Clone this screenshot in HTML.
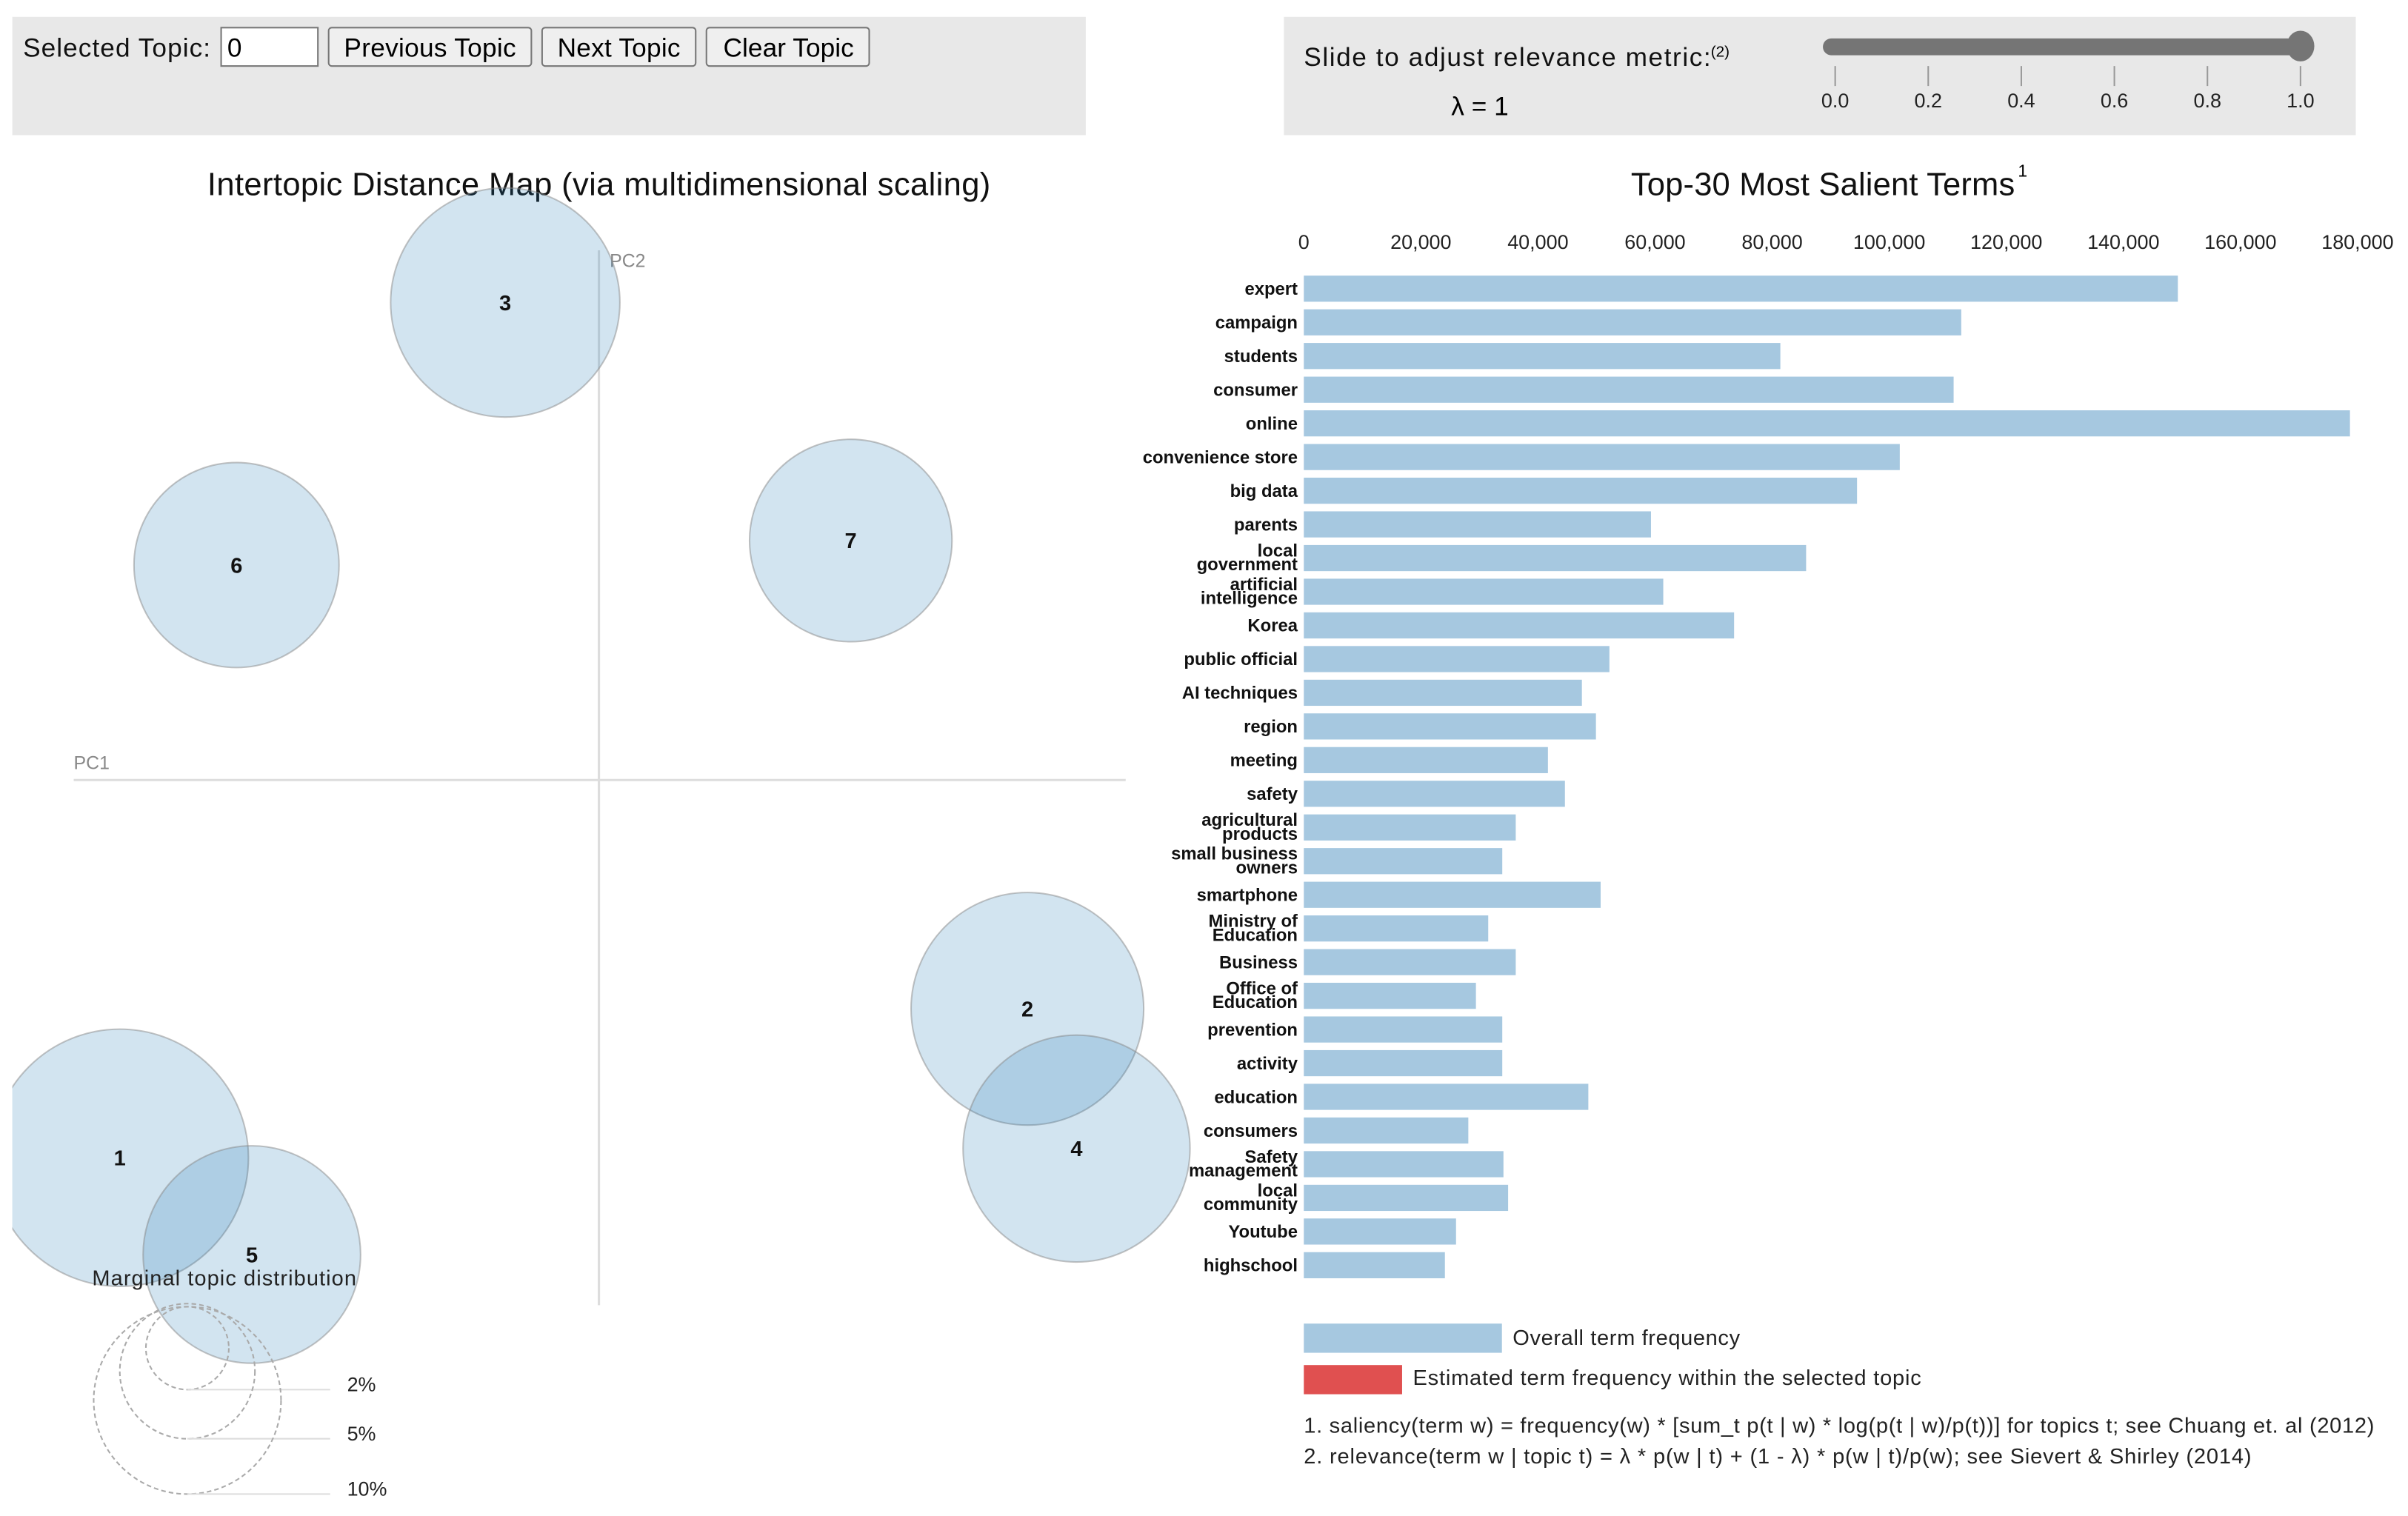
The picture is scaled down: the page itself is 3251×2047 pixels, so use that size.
<!DOCTYPE html>
<html><head><meta charset="utf-8">
<style>
html,body{margin:0;padding:0;background:#fff;overflow:hidden}
svg{display:block;font-family:"Liberation Sans",sans-serif}
</style></head>
<body>
<svg id="root" width="3251" height="2047" viewBox="0 0 1568 987.3" preserveAspectRatio="none" xmlns="http://www.w3.org/2000/svg">
<defs><clipPath id="mapclip"><rect x="8" y="95" width="800" height="892"/></clipPath></defs>
<g>
<rect x="8" y="11" width="699" height="77" fill="#e8e8e8"/>
<text x="15" y="37" font-size="17" fill="#111" textLength="122">Selected Topic:</text>
<g><rect x="144" y="18" width="63" height="25" fill="#fff" stroke="#777"/><text x="148" y="37" font-size="17">0</text></g>
<g><rect x="214" y="18" width="132" height="25" rx="2" fill="#efefef" stroke="#777"/><text x="224" y="37" font-size="17" textLength="112">Previous Topic</text></g>
<g><rect x="353" y="18" width="100" height="25" rx="2" fill="#efefef" stroke="#777"/><text x="363" y="37" font-size="17" textLength="80">Next Topic</text></g>
<g><rect x="460" y="18" width="106" height="25" rx="2" fill="#efefef" stroke="#777"/><text x="471" y="37" font-size="17" textLength="85">Clear Topic</text></g>
</g>
<g>
<rect x="836" y="11" width="698" height="77" fill="#e8e8e8"/>
<text x="849" y="43" font-size="17" fill="#111" textLength="265">Slide to adjust relevance metric:</text>
<text x="1114" y="37" font-size="10">(2)</text>
<text x="945" y="75" font-size="17">λ = 1</text>
<g>
<rect x="1187" y="25" width="315" height="11" rx="5.5" fill="#757575"/>
<ellipse cx="1498" cy="30" rx="9" ry="10" fill="#757575"/>
<g id="sliderTicks"></g>
</g>
</g>
<text x="390" y="127" font-size="21" text-anchor="middle" fill="#111" textLength="510">Intertopic Distance Map (via multidimensional scaling)</text>
<text x="1187" y="127" font-size="21" text-anchor="middle" fill="#111" textLength="250">Top-30 Most Salient Terms</text>
<text x="1314" y="115" font-size="11">1</text>
<g>
<line x1="48" y1="508" x2="733" y2="508" stroke="#ddd" stroke-width="1.5"/>
<line x1="390" y1="163" x2="390" y2="850" stroke="#ddd" stroke-width="1.5"/>
<text x="48" y="501" font-size="12" fill="#888">PC1</text>
<text x="397" y="174" font-size="12" fill="#888">PC2</text>
<g id="circles" clip-path="url(#mapclip)"></g>
<g id="circleLabels"></g>
<text x="146" y="837" font-size="14" text-anchor="middle" fill="#222" textLength="172">Marginal topic distribution</text>
<g id="marginal"></g>
</g>
<g>
<g id="xticks"></g>
<g id="bars"></g>
</g>
<g>
<rect x="849" y="862" width="129" height="19" fill="#a6c8e0"/>
<text x="985" y="876" font-size="14" fill="#222" textLength="148">Overall term frequency</text>
<rect x="849" y="889" width="64" height="19" fill="#e05050"/>
<text x="920" y="902" font-size="14" fill="#222" textLength="331">Estimated term frequency within the selected topic</text>
<text x="849" y="933" font-size="14" fill="#222" textLength="697">1. saliency(term w) = frequency(w) * [sum_t p(t | w) * log(p(t | w)/p(t))] for topics t; see Chuang et. al (2012)</text>
<text x="849" y="953" font-size="14" fill="#222" textLength="617">2. relevance(term w | topic t) = λ * p(w | t) + (1 - λ) * p(w | t)/p(w); see Sievert &amp; Shirley (2014)</text>
</g>
</svg>
<script>
const NS="http://www.w3.org/2000/svg";
const terms=["expert","campaign","students","consumer","online","convenience store","big data","parents","local government","artificial intelligence","Korea","public official","AI techniques","region","meeting","safety","agricultural products","small business owners","smartphone","Ministry of Education","Business","Office of Education","prevention","activity","education","consumers","Safety management","local community","Youtube","highschool"];
const termFreq=[149300,112300,81400,111000,178700,101800,94500,59300,85800,61400,73500,52200,47500,49900,41700,44600,36200,33900,50700,31500,36200,29400,33900,33900,48600,28100,34100,34900,26000,24100];
const xTickValues=[0,20000,40000,60000,80000,100000,120000,140000,160000,180000];
const sliderValues=[0.0,0.2,0.4,0.6,0.8,1.0];
const topicIds=[1,2,3,4,5,6,7];
const topicPC1=[-0.312,0.279,-0.061,0.311,-0.226,-0.236,0.164];
const topicPC2=[-0.246,-0.149,0.311,-0.240,-0.309,0.140,0.156];
const topicSize=[12.6,10.3,10.0,9.8,9.0,8.0,7.8];
const marginPct=[2,5,10];
const marginTickY=[905,937,973];
const wrapTerms=['agricultural products','small business owners','Safety management','local community','local government','artificial intelligence','Ministry of Education','Office of Education'];

function mk(tag,attrs,parent){const e=document.createElementNS(NS,tag);for(const k in attrs)e.setAttribute(k,attrs[k]);parent.appendChild(e);return e;}
const sx=v=>1195+v*303;
const sT=document.getElementById('sliderTicks');
sliderValues.forEach(v=>{
  const l=mk('line',{x1:sx(v),y1:43,x2:sx(v),y2:56,stroke:'#999'},sT);
  
  
  const t=mk('text',{x:sx(v),y:70,'font-size':13,'text-anchor':'middle',fill:'#222'},sT);
  t.textContent=v.toFixed(1);
  
  
});
const mx=v=>390+v*1000;
const my=v=>508-v*1000;
const rr=s=>Math.sqrt(s)*23.6;
const cg=document.getElementById('circles'),lg=document.getElementById('circleLabels');
topicIds.forEach((id,i)=>{
  const c=mk('circle',{cx:mx(topicPC1[i]),cy:my(topicPC2[i]),r:rr(topicSize[i]),fill:'#1f77b4','fill-opacity':0.2,stroke:'#888','stroke-opacity':0.5},cg);
  
  
  const t=mk('text',{x:mx(topicPC1[i]),y:my(topicPC2[i])+5,'font-size':14,'font-weight':'bold','text-anchor':'middle',fill:'#111'},lg);
  t.textContent=id;
  
  
});
const mg=document.getElementById('marginal');
const mr=[27,44,61];
marginPct.forEach((p,i)=>{
  const r=mr[i];
  const c=mk('circle',{cx:122,cy:marginTickY[i]-r,r:r,fill:'none',stroke:'#aaa','stroke-dasharray':'3 2'},mg);
  
  
  const l=mk('line',{x1:122,y1:marginTickY[i],x2:215,y2:marginTickY[i],stroke:'#ddd'},mg);
  
  
  const t=mk('text',{x:226,y:marginTickY[i]+1,'font-size':13,fill:'#222'},mg);
  t.textContent=p+'%';
  
  
});
const bx=v=>849+v*0.003812;
const by=i=>188+i*21.93;
const xg=document.getElementById('xticks');
xTickValues.forEach(v=>{
  const t=mk('text',{x:bx(v),y:162,'font-size':13,'text-anchor':'middle',fill:'#222'},xg);
  t.textContent=v.toLocaleString('en-US');
  
  
});
const bg=document.getElementById('bars');
terms.forEach((term,i)=>{
  const y=by(i);
  const b=mk('rect',{x:bx(0),y:y-8.5,width:bx(termFreq[i])-bx(0),height:17,fill:'#a6c8e0'},bg);
  
  
  const words=term.split(' ');
  const lines=wrapTerms.includes(term)?[words.slice(0,words.length-1).join(' '),words[words.length-1]]:[term];
  const t=mk('text',{x:845,'font-size':11.5,'font-weight':'bold','text-anchor':'end',fill:'#111'},bg);
  
  
  if(lines.length===1){t.setAttribute('y',y+4);t.textContent=term;}
  else{
    lines.forEach((ln,k)=>{const ts=mk('tspan',{x:845,y:y-1+k*9},t);ts.textContent=ln;});
  }
});
</script>
</body></html>
